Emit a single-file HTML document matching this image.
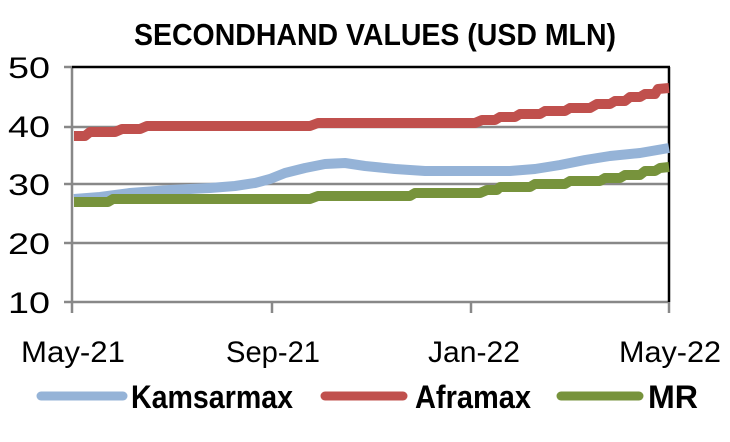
<!DOCTYPE html>
<html><head><meta charset="utf-8"><style>
html,body{margin:0;padding:0;background:#fff;}
svg{display:block;font-family:"Liberation Sans",sans-serif;}
</style></head><body>
<svg width="730" height="442" viewBox="0 0 730 442" xmlns="http://www.w3.org/2000/svg">
<text x="375" y="45" text-anchor="middle" font-weight="bold" font-size="31" textLength="482" lengthAdjust="spacingAndGlyphs">SECONDHAND VALUES (USD MLN)</text>
<g stroke="#888" stroke-width="2.5">
<line x1="72" y1="127" x2="669" y2="127"/>
<line x1="72" y1="184" x2="669" y2="184"/>
<line x1="72" y1="243" x2="669" y2="243"/>
<line x1="64" y1="67" x2="72" y2="67"/>
<line x1="64" y1="127" x2="72" y2="127"/>
<line x1="64" y1="184" x2="72" y2="184"/>
<line x1="64" y1="243" x2="72" y2="243"/>
<line x1="64" y1="302" x2="669" y2="302"/>
<line x1="72" y1="67" x2="72" y2="313"/>
<line x1="272" y1="302" x2="272" y2="313"/>
<line x1="471" y1="302" x2="471" y2="313"/>
<line x1="669" y1="302" x2="669" y2="313"/>
</g>
<g stroke="#000" stroke-width="2.5" fill="none">
<line x1="72" y1="67" x2="670" y2="67"/>
<line x1="669" y1="67" x2="669" y2="302"/>
</g>
<g font-size="30" text-anchor="end">
<text x="50" y="78" textLength="42" lengthAdjust="spacingAndGlyphs">50</text>
<text x="50" y="137" textLength="42" lengthAdjust="spacingAndGlyphs">40</text>
<text x="50" y="195" textLength="42" lengthAdjust="spacingAndGlyphs">30</text>
<text x="50" y="254" textLength="42" lengthAdjust="spacingAndGlyphs">20</text>
<text x="50" y="313" textLength="42" lengthAdjust="spacingAndGlyphs">10</text>
</g>
<g font-size="30" text-anchor="middle">
<text x="73" y="362" textLength="104" lengthAdjust="spacingAndGlyphs">May-21</text>
<text x="273" y="362" textLength="94" lengthAdjust="spacingAndGlyphs">Sep-21</text>
<text x="474" y="362" textLength="92" lengthAdjust="spacingAndGlyphs">Jan-22</text>
<text x="670" y="362" textLength="102" lengthAdjust="spacingAndGlyphs">May-22</text>
</g>
<g fill="none" stroke-width="10" stroke-linejoin="round">
<polyline stroke="#c0504d" points="74,136 85,136 90,132 115,132 122,129 140,129 147,126 310,126 318,123 475,123 482,120 495,120 500,117 515,117 520,114 540,114 545,111 565,111 570,108 590,108 597,104 610,104 615,101 625,101 630,97 640,97 645,94 655,94 658,89 669,88"/>
<polyline stroke="#95b3d7" points="74,199 100,197 130,193 170,190 210,188 235,186 255,183 270,179 285,173 305,168 325,164 345,163 365,166 395,169 425,171 460,171 510,171 535,169 560,165 585,160 610,156 640,153 669,148"/>
<polyline stroke="#77933c" points="74,202 108,202 113,199 310,199 318,196 410,196 415,193 480,193 487,190 497,190 500,187 530,187 535,184 565,184 570,181 600,181 605,178 620,178 625,175 640,175 645,171 655,171 660,168 669,167"/>
</g>
<g stroke-width="9" stroke-linecap="round">
<line x1="41" y1="396" x2="123" y2="396" stroke="#95b3d7"/>
<line x1="325" y1="396" x2="403" y2="396" stroke="#c0504d"/>
<line x1="561" y1="396" x2="639" y2="396" stroke="#77933c"/>
</g>
<g font-size="32" font-weight="bold">
<text x="131" y="408" textLength="162" lengthAdjust="spacingAndGlyphs">Kamsarmax</text>
<text x="415" y="408" textLength="116" lengthAdjust="spacingAndGlyphs">Aframax</text>
<text x="648" y="408" textLength="50" lengthAdjust="spacingAndGlyphs">MR</text>
</g>
</svg>
</body></html>
